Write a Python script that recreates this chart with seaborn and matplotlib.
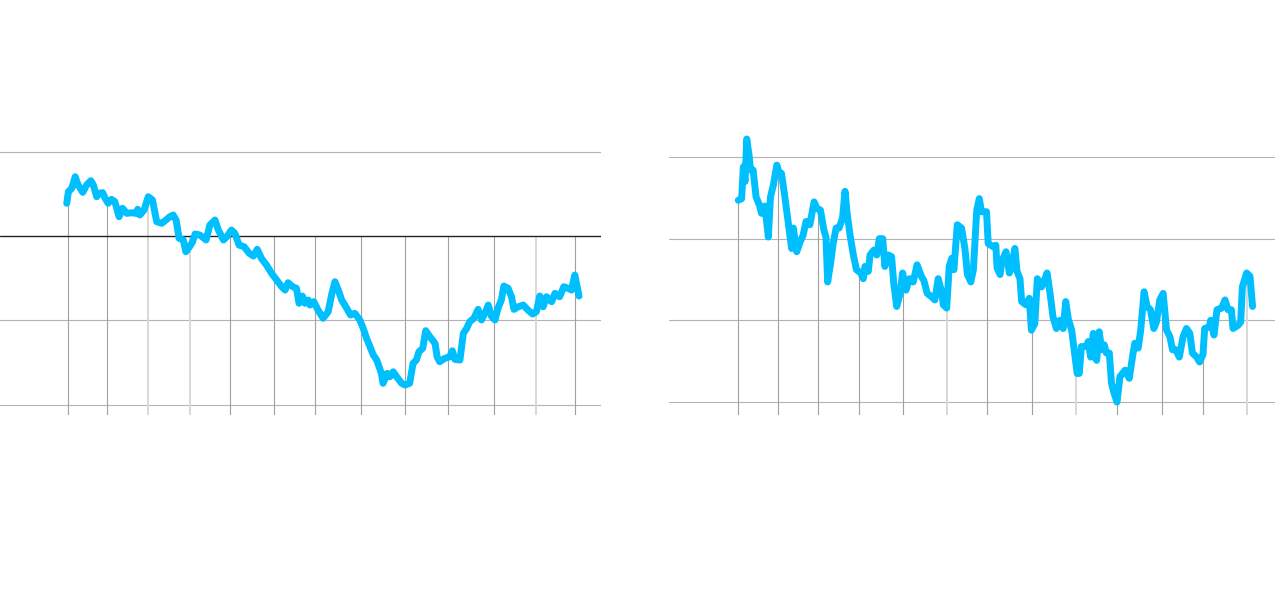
import numpy as np
import pandas as pd
import matplotlib
matplotlib.use("Agg")
import matplotlib.pyplot as plt
import seaborn as sns

# ---- Left panel data (time in years from first marker, value in %) ----
left_t = [-0.03, 0.01, 0.09, 0.17, 0.24, 0.35, 0.44, 0.54, 0.60, 0.68, 0.74, 0.82, 0.88, 0.95,
          1.03, 1.11, 1.21, 1.29, 1.39, 1.51, 1.61, 1.65, 1.70, 1.80, 1.90, 2.00, 2.10, 2.22,
          2.32, 2.41, 2.49, 2.56, 2.63, 2.73, 2.79, 2.89, 2.95, 3.01, 3.12, 3.27, 3.36, 3.48,
          3.56, 3.68, 3.76, 3.87, 3.95, 4.05, 4.17, 4.29, 4.39, 4.48, 4.58, 4.70, 4.82, 4.94,
          5.06, 5.14, 5.21, 5.32, 5.41, 5.47, 5.55, 5.61, 5.69, 5.73, 5.82, 5.92, 6.04, 6.16,
          6.24, 6.32, 6.40, 6.48, 6.60, 6.69, 6.79, 6.91, 6.99, 7.07, 7.15, 7.23, 7.31, 7.42,
          7.46, 7.56, 7.62, 7.70, 7.78, 7.90, 7.98, 8.09, 8.17, 8.25, 8.31, 8.40, 8.47, 8.57,
          8.69, 8.74, 8.80, 8.92, 9.04, 9.10, 9.16, 9.28, 9.36, 9.44, 9.51, 9.61, 9.71, 9.79,
          9.87, 9.95, 10.03, 10.11, 10.18, 10.26, 10.32, 10.42, 10.50, 10.56, 10.66, 10.78,
          10.89, 11.00, 11.09, 11.17, 11.25, 11.33, 11.45, 11.53, 11.64, 11.74, 11.84, 11.92,
          12.00, 12.10]
left_v = [3.88, 5.26, 5.66, 7.03, 6.05, 5.18, 6.05, 6.56, 6.05, 4.66, 5.07, 5.14, 4.47, 3.88,
          4.35, 4.07, 2.29, 3.29, 2.69, 2.76, 2.69, 3.17, 2.49, 3.08, 4.66, 4.27, 1.70, 1.51,
          1.90, 2.29, 2.49, 1.90, -0.27, -0.47, -1.86, -1.19, -0.68, 0.24, 0.12, -0.47, 1.30, 1.90,
          0.71, -0.47, -0.08, 0.71, 0.32, -1.07, -1.27, -2.05, -2.37, -1.58, -2.65, -3.44, -4.42, -5.22,
          -6.01, -6.41, -5.54, -6.01, -6.20, -7.98, -7.12, -7.98, -7.59, -8.19, -7.79, -8.78, -9.76, -8.98,
          -7.00, -5.42, -6.41, -7.59, -8.58, -9.37, -9.17, -9.96, -10.95, -12.14, -13.13, -14.12, -14.71, -16.29,
          -17.47, -16.29, -16.69, -16.10, -16.69, -17.47, -17.67, -17.47, -15.10, -14.71, -13.72, -13.32, -11.23, -11.95,
          -12.73, -14.32, -14.91, -14.51, -14.32, -13.61, -14.63, -14.71, -11.54, -10.95, -10.17, -9.76, -8.70, -9.96,
          -9.17, -8.19, -9.57, -9.96, -8.58, -7.59, -5.93, -6.20, -7.20, -8.70, -8.39, -8.19,
          -8.78, -9.25, -8.98, -7.12, -8.39, -7.20, -7.79, -6.80, -7.20, -6.01, -6.20, -6.41,
          -4.63, -7.12]
left_markers = [0.01, 0.93, 1.89, 2.88, 3.84, 4.88, 5.85, 6.94, 7.98, 9.00, 10.09, 11.09, 12.01]
left_marker_light = [False, False, True, True, False, False, False, False, False, False, False, True, False]
left_grid = [10, -10, -20]
left_zero = 0

# ---- Right panel data ----
right_t = [0.00, 0.08, 0.12, 0.16, 0.20, 0.26, 0.29, 0.35, 0.42, 0.50, 0.55, 0.63, 0.71, 0.76,
           0.83, 0.91, 0.97, 1.02, 1.10, 1.18, 1.26, 1.30, 1.38, 1.46, 1.53, 1.60, 1.69, 1.79,
           1.86, 1.94, 2.02, 2.07, 2.11, 2.18, 2.24, 2.31, 2.38, 2.46, 2.52, 2.57, 2.64, 2.71,
           2.79, 2.89, 2.95, 2.99, 3.07, 3.11, 3.20, 3.27, 3.33, 3.41, 3.46, 3.54, 3.62, 3.67,
           3.74, 3.82, 3.88, 3.96, 4.04, 4.13, 4.22, 4.33, 4.38, 4.46, 4.56, 4.64, 4.72, 4.80,
           4.84, 4.92, 4.98, 5.04, 5.09, 5.17, 5.27, 5.35, 5.41, 5.49, 5.55, 5.63, 5.69, 5.74,
           5.86, 5.90, 6.02, 6.08, 6.11, 6.18, 6.22, 6.32, 6.40, 6.45, 6.53, 6.58, 6.65, 6.69,
           6.79, 6.87, 6.92, 7.00, 7.06, 7.16, 7.24, 7.29, 7.36, 7.43, 7.51, 7.59, 7.67, 7.73,
           7.79, 7.87, 7.95, 8.00, 8.05, 8.10, 8.22, 8.26, 8.32, 8.38, 8.42, 8.46, 8.52, 8.58,
           8.64, 8.69, 8.76, 8.81, 8.87, 8.94, 9.01, 9.13, 9.23, 9.32, 9.36, 9.44, 9.50, 9.58,
           9.65, 9.73, 9.81, 9.87, 9.95, 10.03, 10.11, 10.19, 10.25, 10.33, 10.41, 10.50, 10.58, 10.66,
           10.72, 10.82, 10.89, 10.97, 11.01, 11.12, 11.15, 11.23, 11.30, 11.41, 11.49, 11.56, 11.64, 11.68,
           11.80, 11.86, 11.90, 12.00, 12.08, 12.14]
right_v = [2.47, 2.49, 2.88, 2.70, 3.22, 3.00, 2.84, 2.84, 2.51, 2.41, 2.31, 2.40, 2.02, 2.51,
           2.66, 2.90, 2.80, 2.80, 2.51, 2.19, 1.88, 2.13, 1.84, 1.96, 2.04, 2.21, 2.17, 2.45,
           2.37, 2.35, 2.11, 2.02, 1.47, 1.70, 1.94, 2.13, 2.13, 2.25, 2.58, 2.31, 2.04, 1.82,
           1.62, 1.58, 1.51, 1.66, 1.60, 1.80, 1.86, 1.80, 2.00, 2.00, 1.66, 1.80, 1.78, 1.45,
           1.17, 1.33, 1.58, 1.37, 1.51, 1.47, 1.68, 1.53, 1.49, 1.33, 1.29, 1.25, 1.51, 1.35,
           1.19, 1.15, 1.66, 1.76, 1.62, 2.17, 2.13, 1.88, 1.56, 1.47, 1.62, 2.35, 2.49, 2.33,
           2.33, 1.94, 1.90, 1.92, 1.64, 1.56, 1.72, 1.84, 1.58, 1.66, 1.88, 1.60, 1.51, 1.23,
           1.19, 1.27, 0.88, 0.96, 1.51, 1.41, 1.51, 1.58, 1.33, 1.04, 0.90, 1.00, 0.90, 1.23,
           1.02, 0.88, 0.55, 0.35, 0.35, 0.68, 0.68, 0.74, 0.55, 0.84, 0.55, 0.51, 0.86, 0.64,
           0.70, 0.60, 0.60, 0.23, 0.11, 0.00, 0.31, 0.39, 0.29, 0.60, 0.72, 0.66, 0.88, 1.35,
           1.17, 1.13, 0.90, 0.98, 1.25, 1.33, 0.88, 0.80, 0.64, 0.64, 0.55, 0.80, 0.90, 0.84,
           0.60, 0.55, 0.49, 0.58, 0.90, 0.92, 1.00, 0.82, 1.13, 1.15, 1.25, 1.13, 1.13, 0.90,
           0.94, 0.98, 1.41, 1.58, 1.54, 1.17]
right_markers = [0.00, 0.94, 1.89, 2.86, 3.88, 4.93, 5.88, 6.94, 7.97, 8.94, 10.01, 10.97, 12.00]
right_marker_light = [False, False, False, False, False, True, False, False, True, False, False, False, True]
right_grid = [0, 1, 2, 3]

LINE_COLOR = "#00BFFF"
GRID_COLOR = "#b4b4b4"
MARK_COLOR = "#a0a0a0"
MARK_LIGHT = "#d8d8d8"

sns.set_style("white")
fig = plt.figure(figsize=(12.8, 6.02), dpi=100)

ax1 = fig.add_axes([0.0, 0.3106, 601 / 1280, 0.4734])
ax2 = fig.add_axes([669 / 1280, 0.3106, 606 / 1280, 0.4734])

ax1.set_xlim(-1.61, 12.62)
ax1.set_ylim(-21.23, 12.57)
ax2.set_xlim(-1.635, 12.67)
ax2.set_ylim(-0.159, 3.33)

def setup(ax):
    for s in ax.spines.values():
        s.set_visible(False)
    ax.set_xticks([])
    ax.set_yticks([])
    ax.set_xlabel("")
    ax.set_ylabel("")
    ax.patch.set_alpha(0)

# left panel
for g in left_grid:
    ax1.axhline(g, color=GRID_COLOR, lw=0.8, zorder=1)
ax1.axhline(left_zero, color="#222222", lw=1.0, zorder=2)
lt = np.array(left_t); lv = np.array(left_v)
for m, light in zip(left_markers, left_marker_light):
    top = max(float(np.interp(m, lt, lv)), left_zero)
    ax1.vlines(m, ax1.get_ylim()[0], top, color=MARK_LIGHT if light else MARK_COLOR,
               lw=1.4 if light else 0.8, zorder=1)
df_l = pd.DataFrame({"t": left_t, "v": left_v})
sns.lineplot(data=df_l, x="t", y="v", ax=ax1, color=LINE_COLOR, lw=5.0, zorder=3,
             solid_joinstyle="round", solid_capstyle="round", sort=False)

# right panel
for g in right_grid:
    ax2.axhline(g, color=GRID_COLOR, lw=0.8, zorder=1)
rt = np.array(right_t); rv = np.array(right_v)
for m, light in zip(right_markers, right_marker_light):
    top = float(np.interp(m, rt, rv))
    ax2.vlines(m, ax2.get_ylim()[0], top, color=MARK_LIGHT if light else MARK_COLOR,
               lw=1.4 if light else 0.8, zorder=1)
df_r = pd.DataFrame({"t": right_t, "v": right_v})
sns.lineplot(data=df_r, x="t", y="v", ax=ax2, color=LINE_COLOR, lw=5.0, zorder=3,
             solid_joinstyle="round", solid_capstyle="round", sort=False)

setup(ax1)
setup(ax2)

fig.savefig("out.png", dpi=100, facecolor="white")
